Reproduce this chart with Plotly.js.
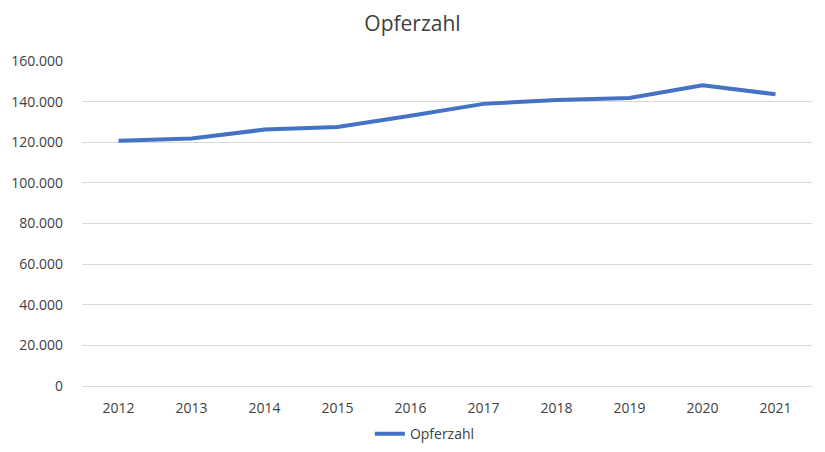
<!DOCTYPE html>
<html>
<head>
<meta charset="utf-8">
<script src="https://cdn.plot.ly/plotly-3.0.1.min.js"></script>
<style>html,body{margin:0;padding:0;background:#fff;}#chart{width:825px;height:452px;}</style>
</head>
<body>
<div id="chart"></div>
<script>
const years = ['2012','2013','2014','2015','2016','2017','2018','2019','2020','2021'];
const opferzahl = [120758, 121834, 126230, 127457, 133080, 138893, 140755, 141792, 148031, 143604];
const yTicks = [0, 20000, 40000, 60000, 80000, 100000, 120000, 140000, 160000];

const trace = {
  x: years,
  y: opferzahl,
  type: 'scatter',
  mode: 'lines',
  name: 'Opferzahl',
  line: {color: '#4472C4', width: 4}
};

const layout = {
  width: 825,
  height: 452,
  margin: {l: 82, r: 13, t: 61, b: 66},
  paper_bgcolor: '#ffffff',
  plot_bgcolor: '#ffffff',
  separators: ',.',
  font: {family: '"Open Sans", "Liberation Sans", sans-serif', color: '#404040', size: 14},
  title: {text: 'Opferzahl', x: 0.5, xanchor: 'center', y: 0.948, yanchor: 'middle', font: {size: 21, color: '#404040'}},
  xaxis: {
    type: 'category',
    range: [-0.5, 9.5],
    showgrid: false,
    showline: false,
    zeroline: false,
    ticks: '',
    ticklabelstandoff: 12,
    tickfont: {size: 14, color: '#404040'},
    fixedrange: true
  },
  yaxis: {
    range: [0, 160000],
    tickvals: yTicks,
    tickformat: ',d',
    showgrid: true,
    gridcolor: '#d9d9d9',
    gridwidth: 1,
    zeroline: true,
    zerolinecolor: '#d9d9d9',
    zerolinewidth: 1,
    showline: false,
    ticks: '',
    ticklabelstandoff: 18,
    tickfont: {size: 14, color: '#404040'},
    fixedrange: true
  },
  showlegend: true,
  legend: {
    orientation: 'h',
    x: 0.515,
    xanchor: 'center',
    xref: 'container',
    y: 0.004,
    yanchor: 'bottom',
    yref: 'container',
    font: {size: 14, color: '#404040'},
    itemwidth: 30
  }
};

Plotly.newPlot('chart', [trace], layout, {displayModeBar: false, staticPlot: true});
</script>
</body>
</html>
